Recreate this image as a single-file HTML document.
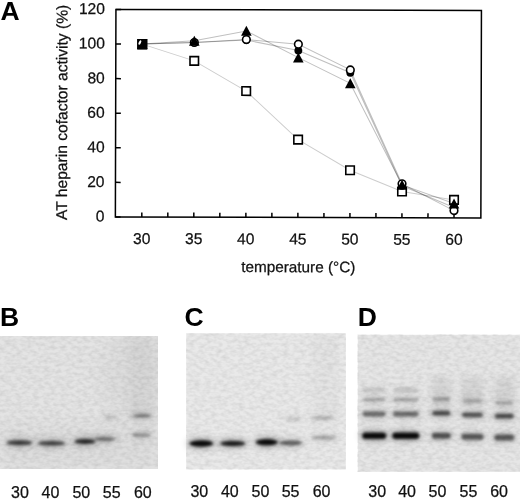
<!DOCTYPE html>
<html><head><meta charset="utf-8"><style>
html,body{margin:0;padding:0;background:#fff;width:520px;height:500px;overflow:hidden}
svg{display:block}
text{opacity:0.999}
.t{font-family:"Liberation Sans",sans-serif;font-size:15.6px;fill:#111;stroke:#111;stroke-width:0.25px}
.g{font-family:"Liberation Sans",sans-serif;font-size:16px;fill:#111;stroke:#111;stroke-width:0.25px}
.L{font-family:"Liberation Sans",sans-serif;font-size:26.5px;font-weight:bold;fill:#000}
</style></head><body>
<svg width="520" height="500" viewBox="0 0 520 500">
<defs>
<filter id="b15" x="-50%" y="-150%" width="200%" height="400%"><feGaussianBlur stdDeviation="1.5"/></filter>
<filter id="b3" x="-50%" y="-150%" width="200%" height="400%"><feGaussianBlur stdDeviation="3"/></filter>
<filter id="b8" x="-50%" y="-100%" width="200%" height="300%"><feGaussianBlur stdDeviation="8"/></filter>
<filter id="nz" x="0" y="0" width="100%" height="100%"><feTurbulence type="fractalNoise" baseFrequency="0.18 0.3" numOctaves="2" seed="7"/><feColorMatrix type="matrix" values="0 0 0 0 0  0 0 0 0 0  0 0 0 0 0  0.16 0 0 0 -0.055"/></filter>
<clipPath id="cB"><rect x="0" y="336" width="158" height="133"/></clipPath>
</defs>
<g clip-path="url(#cB)"><rect x="0" y="336" width="158" height="133" fill="#e4e4e4"/>
<ellipse cx="135" cy="375" rx="35" ry="45" fill="#000" fill-opacity="0.03" filter="url(#b8)"/>
<rect x="128" y="336" width="26" height="80" fill="#000" fill-opacity="0.03" filter="url(#b3)"/>
<rect x="0" y="425" width="158" height="44" fill="#000" fill-opacity="0.03" filter="url(#b8)"/>
</g>
<ellipse cx="19.5" cy="442.7" rx="15.5" ry="6.0" fill="#000" fill-opacity="0.154" filter="url(#b3)"/>
<ellipse cx="19.5" cy="442.7" rx="12.5" ry="2.5" fill="#000" fill-opacity="0.700" filter="url(#b15)"/>
<ellipse cx="51.5" cy="443.3" rx="16.5" ry="5.8" fill="#000" fill-opacity="0.150" filter="url(#b3)"/>
<ellipse cx="51.5" cy="443.3" rx="13.5" ry="2.3" fill="#000" fill-opacity="0.680" filter="url(#b15)"/>
<ellipse cx="85" cy="441.6" rx="13.5" ry="6.0" fill="#000" fill-opacity="0.176" filter="url(#b3)"/>
<ellipse cx="85" cy="441.6" rx="10.5" ry="2.5" fill="#000" fill-opacity="0.800" filter="url(#b15)"/>
<ellipse cx="105" cy="439" rx="13.5" ry="5.7" fill="#000" fill-opacity="0.099" filter="url(#b3)"/>
<ellipse cx="105" cy="439" rx="10.5" ry="2.2" fill="#000" fill-opacity="0.450" filter="url(#b15)"/>
<ellipse cx="110.5" cy="417.4" rx="10.0" ry="5.1" fill="#000" fill-opacity="0.033" filter="url(#b3)"/>
<ellipse cx="110.5" cy="417.4" rx="7.0" ry="1.6" fill="#000" fill-opacity="0.150" filter="url(#b15)"/>
<ellipse cx="142" cy="415.8" rx="12.5" ry="5.0" fill="#000" fill-opacity="0.110" filter="url(#b3)"/>
<ellipse cx="142" cy="415.8" rx="9.5" ry="1.5" fill="#000" fill-opacity="0.500" filter="url(#b15)"/>
<ellipse cx="141.5" cy="435" rx="12.5" ry="5.1" fill="#000" fill-opacity="0.084" filter="url(#b3)"/>
<ellipse cx="141.5" cy="435" rx="9.5" ry="1.6" fill="#000" fill-opacity="0.380" filter="url(#b15)"/>
<rect x="186.2" y="333.3" width="159.6" height="136" fill="#e9e9e9"/>
<rect x="312" y="336" width="26" height="80" fill="#000" fill-opacity="0.025" filter="url(#b3)"/>
<ellipse cx="201.3" cy="443.5" rx="15.0" ry="6.8" fill="#000" fill-opacity="0.209" filter="url(#b3)"/>
<ellipse cx="201.3" cy="443.5" rx="12.0" ry="3.2" fill="#000" fill-opacity="0.950" filter="url(#b15)"/>
<ellipse cx="232.8" cy="443.5" rx="15.5" ry="6.2" fill="#000" fill-opacity="0.187" filter="url(#b3)"/>
<ellipse cx="232.8" cy="443.5" rx="12.5" ry="2.8" fill="#000" fill-opacity="0.850" filter="url(#b15)"/>
<ellipse cx="266.8" cy="442.3" rx="14.0" ry="6.8" fill="#000" fill-opacity="0.209" filter="url(#b3)"/>
<ellipse cx="266.8" cy="442.3" rx="11.0" ry="3.2" fill="#000" fill-opacity="0.950" filter="url(#b15)"/>
<ellipse cx="290.7" cy="443" rx="14.5" ry="6.0" fill="#000" fill-opacity="0.121" filter="url(#b3)"/>
<ellipse cx="290.7" cy="443" rx="11.5" ry="2.5" fill="#000" fill-opacity="0.550" filter="url(#b15)"/>
<ellipse cx="324.3" cy="437.6" rx="15.5" ry="5.8" fill="#000" fill-opacity="0.055" filter="url(#b3)"/>
<ellipse cx="324.3" cy="437.6" rx="12.5" ry="2.2" fill="#000" fill-opacity="0.250" filter="url(#b15)"/>
<ellipse cx="293.2" cy="419" rx="11.5" ry="5.2" fill="#000" fill-opacity="0.026" filter="url(#b3)"/>
<ellipse cx="293.2" cy="419" rx="8.5" ry="1.8" fill="#000" fill-opacity="0.120" filter="url(#b15)"/>
<ellipse cx="323" cy="418" rx="14.0" ry="5.2" fill="#000" fill-opacity="0.048" filter="url(#b3)"/>
<ellipse cx="323" cy="418" rx="11.0" ry="1.8" fill="#000" fill-opacity="0.220" filter="url(#b15)"/>
<rect x="357.8" y="334.8" width="162.2" height="137" fill="#e6e6e6"/>
<ellipse cx="374.2" cy="390" rx="14.0" ry="5.5" fill="#000" fill-opacity="0.026" filter="url(#b3)"/>
<rect x="363.2" y="388.0" width="22.0" height="4.0" rx="2.0" fill="#000" fill-opacity="0.120" filter="url(#b15)"/>
<ellipse cx="374.2" cy="435.6" rx="15.0" ry="6.8" fill="#000" fill-opacity="0.209" filter="url(#b3)"/>
<rect x="362.2" y="432.4" width="24.0" height="6.5" rx="3.2" fill="#000" fill-opacity="0.950" filter="url(#b15)"/>
<ellipse cx="374.2" cy="414" rx="14.5" ry="5.9" fill="#000" fill-opacity="0.110" filter="url(#b3)"/>
<rect x="362.7" y="411.6" width="23.0" height="4.8" rx="2.4" fill="#000" fill-opacity="0.500" filter="url(#b15)"/>
<ellipse cx="374.2" cy="399.6" rx="14.0" ry="5.1" fill="#000" fill-opacity="0.062" filter="url(#b3)"/>
<rect x="363.2" y="398.0" width="22.0" height="3.2" rx="1.6" fill="#000" fill-opacity="0.280" filter="url(#b15)"/>
<ellipse cx="405.8" cy="390" rx="15.5" ry="5.5" fill="#000" fill-opacity="0.026" filter="url(#b3)"/>
<rect x="393.3" y="388.0" width="25.0" height="4.0" rx="2.0" fill="#000" fill-opacity="0.120" filter="url(#b15)"/>
<ellipse cx="405.8" cy="435.6" rx="16.5" ry="6.8" fill="#000" fill-opacity="0.209" filter="url(#b3)"/>
<rect x="392.3" y="432.4" width="27.0" height="6.5" rx="3.2" fill="#000" fill-opacity="0.950" filter="url(#b15)"/>
<ellipse cx="405.8" cy="414" rx="16.0" ry="5.9" fill="#000" fill-opacity="0.110" filter="url(#b3)"/>
<rect x="392.8" y="411.6" width="26.0" height="4.8" rx="2.4" fill="#000" fill-opacity="0.500" filter="url(#b15)"/>
<ellipse cx="405.8" cy="399.6" rx="15.5" ry="5.1" fill="#000" fill-opacity="0.062" filter="url(#b3)"/>
<rect x="393.3" y="398.0" width="25.0" height="3.2" rx="1.6" fill="#000" fill-opacity="0.280" filter="url(#b15)"/>
<rect x="431.8" y="377" width="19.0" height="28" fill="#000" fill-opacity="0.07" filter="url(#b3)"/>
<ellipse cx="441.3" cy="435.8" rx="12.5" ry="6.5" fill="#000" fill-opacity="0.132" filter="url(#b3)"/>
<rect x="431.8" y="432.8" width="19.0" height="6.0" rx="3.0" fill="#000" fill-opacity="0.600" filter="url(#b15)"/>
<ellipse cx="441.3" cy="413.2" rx="12.0" ry="5.9" fill="#000" fill-opacity="0.143" filter="url(#b3)"/>
<rect x="432.3" y="410.8" width="18.0" height="4.8" rx="2.4" fill="#000" fill-opacity="0.650" filter="url(#b15)"/>
<ellipse cx="441.3" cy="399.3" rx="11.5" ry="5.1" fill="#000" fill-opacity="0.062" filter="url(#b3)"/>
<rect x="432.8" y="397.7" width="17.0" height="3.2" rx="1.6" fill="#000" fill-opacity="0.280" filter="url(#b15)"/>
<rect x="461.5" y="377" width="22.0" height="28" fill="#000" fill-opacity="0.07" filter="url(#b3)"/>
<ellipse cx="472.5" cy="436.7" rx="14.0" ry="6.5" fill="#000" fill-opacity="0.128" filter="url(#b3)"/>
<rect x="461.5" y="433.7" width="22.0" height="6.0" rx="3.0" fill="#000" fill-opacity="0.580" filter="url(#b15)"/>
<ellipse cx="472.5" cy="414.8" rx="13.5" ry="5.9" fill="#000" fill-opacity="0.132" filter="url(#b3)"/>
<rect x="462.0" y="412.4" width="21.0" height="4.8" rx="2.4" fill="#000" fill-opacity="0.600" filter="url(#b15)"/>
<ellipse cx="472.5" cy="401" rx="13.0" ry="5.1" fill="#000" fill-opacity="0.057" filter="url(#b3)"/>
<rect x="462.5" y="399.4" width="20.0" height="3.2" rx="1.6" fill="#000" fill-opacity="0.260" filter="url(#b15)"/>
<rect x="494.3" y="377" width="20.0" height="28" fill="#000" fill-opacity="0.07" filter="url(#b3)"/>
<ellipse cx="504.3" cy="437.6" rx="13.0" ry="6.5" fill="#000" fill-opacity="0.128" filter="url(#b3)"/>
<rect x="494.3" y="434.6" width="20.0" height="6.0" rx="3.0" fill="#000" fill-opacity="0.580" filter="url(#b15)"/>
<ellipse cx="504.3" cy="416.2" rx="12.5" ry="5.9" fill="#000" fill-opacity="0.143" filter="url(#b3)"/>
<rect x="494.8" y="413.8" width="19.0" height="4.8" rx="2.4" fill="#000" fill-opacity="0.650" filter="url(#b15)"/>
<ellipse cx="504.3" cy="403" rx="12.0" ry="5.1" fill="#000" fill-opacity="0.057" filter="url(#b3)"/>
<rect x="495.3" y="401.4" width="18.0" height="3.2" rx="1.6" fill="#000" fill-opacity="0.260" filter="url(#b15)"/>
<rect x="0" y="336" width="158" height="133" filter="url(#nz)"/>
<rect x="186.2" y="333.3" width="159.6" height="136" filter="url(#nz)"/>
<rect x="357.8" y="334.8" width="162.2" height="137" filter="url(#nz)"/>
<g transform="rotate(0.157 298.4 113.7)">
<rect x="115.65" y="9.95" width="365.50" height="207.50" fill="none" stroke="#000" stroke-width="1.5"/>
<line x1="142.08" y1="217.45" x2="142.08" y2="212.85" stroke="#000" stroke-width="1.5"/>
<line x1="168.10" y1="217.45" x2="168.10" y2="212.85" stroke="#000" stroke-width="1.5"/>
<line x1="194.11" y1="217.45" x2="194.11" y2="212.85" stroke="#000" stroke-width="1.5"/>
<line x1="220.12" y1="217.45" x2="220.12" y2="212.85" stroke="#000" stroke-width="1.5"/>
<line x1="246.14" y1="217.45" x2="246.14" y2="212.85" stroke="#000" stroke-width="1.5"/>
<line x1="272.16" y1="217.45" x2="272.16" y2="212.85" stroke="#000" stroke-width="1.5"/>
<line x1="298.17" y1="217.45" x2="298.17" y2="212.85" stroke="#000" stroke-width="1.5"/>
<line x1="324.19" y1="217.45" x2="324.19" y2="212.85" stroke="#000" stroke-width="1.5"/>
<line x1="350.20" y1="217.45" x2="350.20" y2="212.85" stroke="#000" stroke-width="1.5"/>
<line x1="376.21" y1="217.45" x2="376.21" y2="212.85" stroke="#000" stroke-width="1.5"/>
<line x1="402.23" y1="217.45" x2="402.23" y2="212.85" stroke="#000" stroke-width="1.5"/>
<line x1="428.25" y1="217.45" x2="428.25" y2="212.85" stroke="#000" stroke-width="1.5"/>
<line x1="454.26" y1="217.45" x2="454.26" y2="212.85" stroke="#000" stroke-width="1.5"/>
<line x1="115.65" y1="217.45" x2="120.85000000000001" y2="217.45" stroke="#000" stroke-width="1.5"/>
<line x1="115.65" y1="182.87" x2="120.85000000000001" y2="182.87" stroke="#000" stroke-width="1.5"/>
<line x1="115.65" y1="148.28" x2="120.85000000000001" y2="148.28" stroke="#000" stroke-width="1.5"/>
<line x1="115.65" y1="113.70" x2="120.85000000000001" y2="113.70" stroke="#000" stroke-width="1.5"/>
<line x1="115.65" y1="79.12" x2="120.85000000000001" y2="79.12" stroke="#000" stroke-width="1.5"/>
<line x1="115.65" y1="44.53" x2="120.85000000000001" y2="44.53" stroke="#000" stroke-width="1.5"/>
<line x1="115.65" y1="9.95" x2="120.85000000000001" y2="9.95" stroke="#000" stroke-width="1.5"/>
<g stroke-opacity="0.25">
<polyline points="142.08,44.53 194.11,61.13 246.14,91.22 298.17,139.64 350.20,170.07 402.23,191.17 454.26,199.47" fill="none" stroke="#000" stroke-width="1.0" stroke-opacity="0.2"/>
<polyline points="142.08,44.53 194.11,41.07 246.14,31.05 298.17,57.67 350.20,83.27 402.23,184.60 454.26,203.10" fill="none" stroke="#000" stroke-width="1.0"/>
<polyline points="142.08,44.53 194.11,42.80 246.14,39.69 298.17,44.19 350.20,69.78 402.23,183.56 454.26,210.19" fill="none" stroke="#000" stroke-width="1.0"/>
<polyline points="142.08,44.53 194.11,42.80 246.14,40.21 298.17,50.59 350.20,72.55 402.23,185.46 454.26,207.07" fill="none" stroke="#000" stroke-width="1.0"/>
</g>
<rect x="137.83" y="40.28" width="8.5" height="8.5" fill="#fff" stroke="#000" stroke-width="1.6"/>
<rect x="189.86" y="56.88" width="8.5" height="8.5" fill="#fff" stroke="#000" stroke-width="1.6"/>
<rect x="241.89" y="86.97" width="8.5" height="8.5" fill="#fff" stroke="#000" stroke-width="1.6"/>
<rect x="293.92" y="135.39" width="8.5" height="8.5" fill="#fff" stroke="#000" stroke-width="1.6"/>
<rect x="345.95" y="165.82" width="8.5" height="8.5" fill="#fff" stroke="#000" stroke-width="1.6"/>
<rect x="397.98" y="186.92" width="8.5" height="8.5" fill="#fff" stroke="#000" stroke-width="1.6"/>
<rect x="450.01" y="195.22" width="8.5" height="8.5" fill="#fff" stroke="#000" stroke-width="1.6"/>
<circle cx="142.08" cy="44.53" r="3.95" fill="#000"/>
<circle cx="194.11" cy="42.80" r="3.95" fill="#000"/>
<circle cx="246.14" cy="40.21" r="3.95" fill="#000"/>
<circle cx="298.17" cy="50.59" r="3.95" fill="#000"/>
<circle cx="350.20" cy="72.55" r="3.95" fill="#000"/>
<circle cx="402.23" cy="185.46" r="3.95" fill="#000"/>
<circle cx="454.26" cy="207.07" r="3.95" fill="#000"/>
<circle cx="142.08" cy="44.53" r="3.8" fill="#fff" stroke="#000" stroke-width="1.6"/>
<circle cx="194.11" cy="42.80" r="3.8" fill="#fff" stroke="#000" stroke-width="1.6"/>
<circle cx="246.14" cy="39.69" r="3.8" fill="#fff" stroke="#000" stroke-width="1.6"/>
<circle cx="298.17" cy="44.19" r="3.8" fill="#fff" stroke="#000" stroke-width="1.6"/>
<circle cx="350.20" cy="69.78" r="3.8" fill="#fff" stroke="#000" stroke-width="1.6"/>
<circle cx="402.23" cy="183.56" r="3.8" fill="#fff" stroke="#000" stroke-width="1.6"/>
<circle cx="454.26" cy="210.19" r="3.8" fill="#fff" stroke="#000" stroke-width="1.6"/>
<polygon points="142.08,39.43 147.38,49.43 136.78,49.43" fill="#000"/>
<polygon points="194.11,35.97 199.41,45.97 188.81,45.97" fill="#000"/>
<polygon points="246.14,25.95 251.44,35.95 240.84,35.95" fill="#000"/>
<polygon points="298.17,52.57 303.47,62.57 292.87,62.57" fill="#000"/>
<polygon points="350.20,78.17 355.50,88.17 344.90,88.17" fill="#000"/>
<polygon points="402.23,179.50 407.53,189.50 396.93,189.50" fill="#000"/>
<polygon points="454.26,198.00 459.56,208.00 448.96,208.00" fill="#000"/>
<rect x="137.08" y="39.43" width="10" height="10.4" fill="#000"/>
<ellipse cx="139.68" cy="42.93" rx="1.1" ry="2.5" transform="rotate(25 139.68 42.93)" fill="#fff"/>
<text x="104.7" y="222.05" text-anchor="end" class="t">0</text>
<text x="104.7" y="187.47" text-anchor="end" class="t">20</text>
<text x="104.7" y="152.88" text-anchor="end" class="t">40</text>
<text x="104.7" y="118.30" text-anchor="end" class="t">60</text>
<text x="104.7" y="83.72" text-anchor="end" class="t">80</text>
<text x="104.7" y="49.13" text-anchor="end" class="t">100</text>
<text x="104.7" y="14.55" text-anchor="end" class="t">120</text>
<text x="142.08" y="244.4" text-anchor="middle" class="t">30</text>
<text x="194.11" y="244.4" text-anchor="middle" class="t">35</text>
<text x="246.14" y="244.4" text-anchor="middle" class="t">40</text>
<text x="298.17" y="244.4" text-anchor="middle" class="t">45</text>
<text x="350.20" y="244.4" text-anchor="middle" class="t">50</text>
<text x="402.23" y="244.4" text-anchor="middle" class="t">55</text>
<text x="454.26" y="244.4" text-anchor="middle" class="t">60</text>
<text x="298.7" y="272.2" text-anchor="middle" class="t" style="font-size:15.3px">temperature (°C)</text>
<text transform="translate(67.2,113) rotate(-90)" text-anchor="middle" class="t" style="font-size:15.6px">AT heparin cofactor activity (%)</text>
</g>
<text x="0.6" y="20" class="L">A</text>
<text x="0" y="326" class="L">B</text>
<text x="184.6" y="326" class="L">C</text>
<text x="357.8" y="326" class="L">D</text>
<text x="20" y="497.6" text-anchor="middle" class="g">30</text>
<text x="50.5" y="497.6" text-anchor="middle" class="g">40</text>
<text x="81.3" y="497.6" text-anchor="middle" class="g">50</text>
<text x="111.7" y="497.6" text-anchor="middle" class="g">55</text>
<text x="142.8" y="497.6" text-anchor="middle" class="g">60</text>
<text x="199.3" y="496.7" text-anchor="middle" class="g">30</text>
<text x="229.8" y="496.7" text-anchor="middle" class="g">40</text>
<text x="260.4" y="496.7" text-anchor="middle" class="g">50</text>
<text x="290.6" y="496.7" text-anchor="middle" class="g">55</text>
<text x="321.6" y="496.7" text-anchor="middle" class="g">60</text>
<text x="377.2" y="496.9" text-anchor="middle" class="g">30</text>
<text x="407.1" y="496.9" text-anchor="middle" class="g">40</text>
<text x="437.4" y="496.9" text-anchor="middle" class="g">50</text>
<text x="468.5" y="496.9" text-anchor="middle" class="g">55</text>
<text x="499.1" y="496.9" text-anchor="middle" class="g">60</text>
</svg>
</body></html>
